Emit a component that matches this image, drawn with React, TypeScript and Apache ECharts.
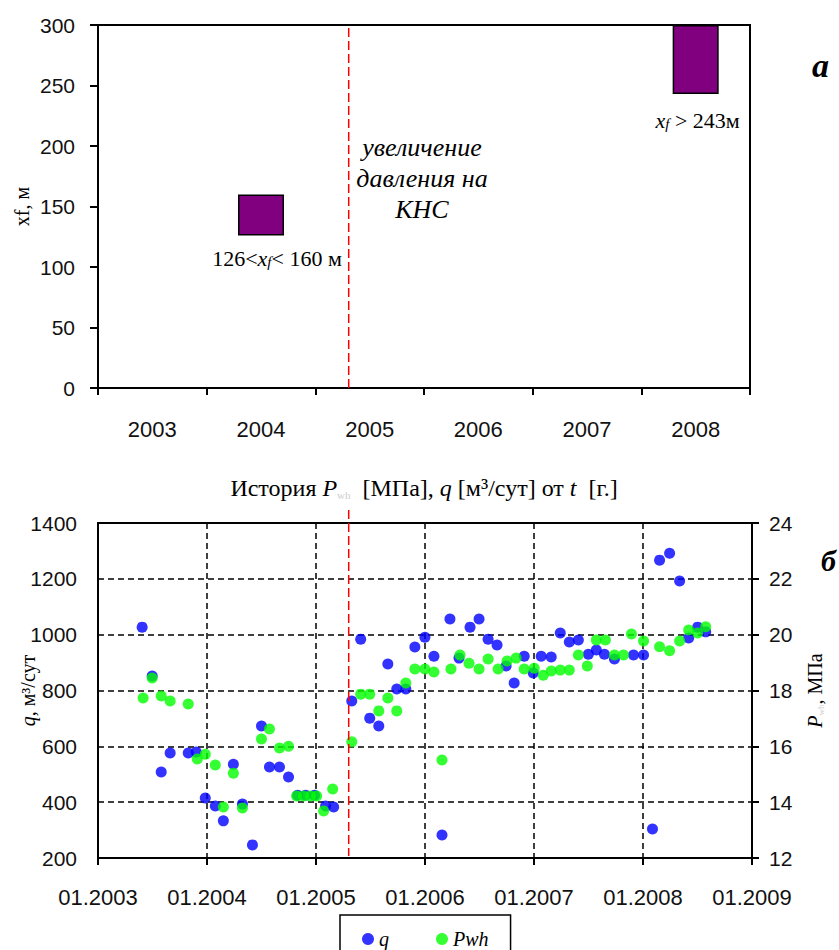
import React, { useEffect, useRef } from "react";
import * as echarts from "echarts";

// ---- Chart (a): fracture half-length xf by year ----
const years = ["2003", "2004", "2005", "2006", "2007", "2008"];
const xfLow: (number | null)[] = [null, 126, null, null, null, 243];
const xfHigh: (number | null)[] = [null, 160, null, null, null, 300];
const xfLabels = ["", "126<{i|x}{sub|f}< 160 м", "", "", "", "{i|x}{sub|f} > 243м"];

// ---- Chart (б): history of q and Pwh (decimal years) ----
const qDates = [2003.405, 2003.497, 2003.58, 2003.662, 2003.828, 2003.902, 2003.984, 2004.076, 2004.15, 2004.242,
  2004.325, 2004.417, 2004.5, 2004.573, 2004.665, 2004.748, 2004.831, 2004.904, 2004.987, 2005.088,
  2005.162, 2005.328, 2005.41, 2005.493, 2005.576, 2005.659, 2005.741, 2005.824, 2005.907, 2005.999,
  2006.082, 2006.156, 2006.229, 2006.312, 2006.413, 2006.496, 2006.579, 2006.661, 2006.744, 2006.818,
  2006.91, 2006.993, 2007.066, 2007.158, 2007.241, 2007.324, 2007.407, 2007.499, 2007.572, 2007.646,
  2007.738, 2007.913, 2008.005, 2008.087, 2008.152, 2008.244, 2008.336, 2008.419, 2008.501, 2008.575];
const qValues = [1027, 852, 508, 576, 576, 580, 415, 386, 333, 536,
  393, 247, 673, 526, 526, 490, 425, 425, 425, 386,
  383, 762, 984, 701, 673, 895, 805, 805, 956, 991,
  923, 282, 1056, 916, 1027, 1056, 984, 963, 888, 827,
  923, 863, 923, 920, 1006, 974, 981, 930, 945, 930,
  913, 927, 927, 304, 1267, 1292, 1192, 988, 1027, 1010];

const pDates = [2003.414, 2003.497, 2003.58, 2003.662, 2003.828, 2003.911, 2003.984, 2004.076, 2004.15, 2004.242,
  2004.325, 2004.5, 2004.573, 2004.665, 2004.748, 2004.822, 2004.886, 2004.95, 2005.006, 2005.07,
  2005.153, 2005.328, 2005.41, 2005.493, 2005.576, 2005.659, 2005.741, 2005.824, 2005.907, 2005.999,
  2006.082, 2006.156, 2006.238, 2006.321, 2006.404, 2006.496, 2006.579, 2006.671, 2006.753, 2006.836,
  2006.91, 2007.002, 2007.085, 2007.158, 2007.241, 2007.324, 2007.407, 2007.489, 2007.572, 2007.655,
  2007.738, 2007.821, 2007.894, 2008.005, 2008.152, 2008.244, 2008.336, 2008.419, 2008.501, 2008.575];
const pValues = [17.73, 18.45, 17.8, 17.62, 17.52, 15.55, 15.72, 15.33, 13.83, 15.04,
  13.79, 16.26, 16.62, 15.94, 16.0, 14.22, 14.22, 14.22, 14.22, 13.68,
  14.47, 16.16, 17.87, 17.87, 17.27, 17.73, 17.27, 18.27, 18.77, 18.77,
  18.66, 15.51, 18.77, 19.27, 18.98, 18.77, 19.13, 18.77, 19.06, 19.16,
  18.77, 18.8, 18.55, 18.7, 18.73, 18.73, 19.27, 18.88, 19.81, 19.81,
  19.27, 19.27, 20.02, 19.77, 19.57, 19.42, 19.77, 20.17, 20.06, 20.28];

const knsDate = 2005.3; // увеличение давления на КНС

export default function App() {
  const ref = useRef<HTMLDivElement>(null);
  useEffect(() => {
    const chart = echarts.init(ref.current!, null, { renderer: "svg" });
    const serif = "'Liberation Serif', 'Times New Roman', serif";
    const sans = "'Liberation Sans', Arial, sans-serif";
    const black = "#000";
    const axisLine = { show: true, lineStyle: { color: black, width: 2 } };
    const labelStyle = { fontFamily: sans, fontSize: 21, color: "#111", formatter: (v: number) => String(v) };
    const dashed = { show: true, lineStyle: { color: black, width: 1.5, type: [6, 4] as any } };

    const labelOffsets = [[0, 0], [16, 0], [0, 0], [0, 0], [0, 0], [2, 4]];
    const rangeData = xfHigh.map((h, i) => {
      const lo = xfLow[i];
      const v = h != null && lo != null ? h - lo : null;
      return {
        value: v,
        label: { offset: labelOffsets[i], formatter: () => xfLabels[i] },
      };
    });

    const option: any = {
      animation: false,
      backgroundColor: "#fff",
      title: {
        text: "История {i|P}{s|wh}  [МПа], {i|q} [м³/сут] от {i|t}  [г.]",
        left: 419,
        top: 471,
        textAlign: "center",
        textStyle: {
          fontFamily: serif, fontSize: 24, fontWeight: "normal", color: black,
          rich: {
            i: { fontFamily: serif, fontSize: 24, fontStyle: "italic", color: black },
            s: { fontFamily: serif, fontSize: 11, color: "#ccc", verticalAlign: "bottom" },
          },
        },
      },
      legend: {
        data: ["q", "Pwh"],
        left: 340,
        top: 915,
        orient: "horizontal",
        icon: "circle",
        itemWidth: 12,
        itemHeight: 12,
        itemGap: 47,
        padding: [14, 22, 14, 22],
        borderColor: black,
        borderWidth: 1.5,
        textStyle: { fontFamily: serif, fontStyle: "italic", fontSize: 20, color: black },
      },
      grid: [
        { left: 98, top: 25, width: 652, height: 363, show: true, borderColor: black, borderWidth: 2, backgroundColor: "transparent", outerBoundsMode: "none", containLabel: false },
        { left: 98, top: 523, width: 654, height: 335, show: true, borderColor: black, borderWidth: 2, backgroundColor: "transparent", outerBoundsMode: "none", containLabel: false },
      ],
      xAxis: [
        {
          type: "category", gridIndex: 0, data: years, boundaryGap: true,
          axisLine, axisTick: { show: true, length: 7, lineStyle: { color: black, width: 2 } },
          axisLabel: { fontFamily: sans, fontSize: 22, color: "#111", margin: 30 },
          splitLine: { show: false },
        },
        {
          type: "value", gridIndex: 1, min: 2003, max: 2009, interval: 1,
          axisLine, axisTick: { show: true, length: 7, lineStyle: { color: black, width: 2 } },
          axisLabel: { ...labelStyle, fontSize: 22, margin: 28, formatter: (v: number) => "01." + v },
          splitLine: dashed,
        },
      ],
      yAxis: [
        {
          type: "value", gridIndex: 0, min: 0, max: 300, interval: 50,
          name: "xf, м", nameLocation: "middle", nameGap: 66, nameMoveOverlap: false,
          nameTextStyle: { fontFamily: serif, fontSize: 20, color: black },
          axisLine, axisTick: { show: true, length: 8, lineStyle: { color: black, width: 2 } },
          axisLabel: { ...labelStyle, margin: 23 },
          splitLine: { show: false },
        },
        {
          type: "value", gridIndex: 1, min: 200, max: 1400, interval: 200,
          name: "{i|q}, м³/сут", nameLocation: "middle", nameGap: 60, nameMoveOverlap: false,
          nameTextStyle: {
            fontFamily: serif, fontSize: 20, color: black,
            rich: { i: { fontFamily: serif, fontSize: 20, fontStyle: "italic", color: black } },
          },
          axisLine, axisTick: { show: false },
          axisLabel: { ...labelStyle, margin: 21 },
          splitLine: dashed,
        },
        {
          type: "value", gridIndex: 1, position: "right", min: 12, max: 24, interval: 2,
          name: "{i|P}{s|wh}, МПа", nameLocation: "middle", nameGap: 53, nameMoveOverlap: false,
          nameTextStyle: {
            fontFamily: serif, fontSize: 20, color: black,
            rich: {
              i: { fontFamily: serif, fontSize: 20, fontStyle: "italic", color: black },
              s: { fontFamily: serif, fontSize: 9, color: "#ccc", verticalAlign: "bottom" },
            },
          },
          axisLine, axisTick: { show: true, length: 7, lineStyle: { color: black, width: 2 } },
          axisLabel: { ...labelStyle, margin: 17 },
          splitLine: { show: false },
        },
      ],
      series: [
        {
          name: "base", type: "bar", xAxisIndex: 0, yAxisIndex: 0, stack: "xf",
          data: xfLow, barWidth: 46, silent: true,
          itemStyle: { color: "transparent" },
        },
        {
          name: "xf", type: "bar", xAxisIndex: 0, yAxisIndex: 0, stack: "xf",
          data: rangeData, barWidth: 46,
          itemStyle: { color: "#800080", borderColor: black, borderWidth: 1.5 },
          label: {
            show: true, position: "bottom", distance: 12,
            fontFamily: serif, fontSize: 22, color: black,
            rich: {
              i: { fontFamily: serif, fontSize: 22, fontStyle: "italic", color: black },
              sub: { fontFamily: serif, fontSize: 15, fontStyle: "italic", color: black, verticalAlign: "bottom", padding: [7, 0, 0, 0] },
            },
          },
        },
        {
          name: "q", type: "scatter", xAxisIndex: 1, yAxisIndex: 1,
          data: qDates.map((d, i) => [d, qValues[i]]),
          symbol: "circle", symbolSize: 11,
          itemStyle: { color: "#0000FF" },
        },
        {
          name: "Pwh", type: "scatter", xAxisIndex: 1, yAxisIndex: 2,
          data: pDates.map((d, i) => [d, pValues[i]]),
          symbol: "circle", symbolSize: 11,
          itemStyle: { color: "#00FF00" },
        },
      ],
    };
    chart.setOption(option);

    const kx = chart.convertToPixel({ xAxisIndex: 1 }, knsDate) as number;
    const topY0 = chart.convertToPixel({ yAxisIndex: 0 }, 300) as number;
    const topY1 = chart.convertToPixel({ yAxisIndex: 0 }, 0) as number;
    const botY0 = chart.convertToPixel({ yAxisIndex: 1 }, 1400) as number;
    const botY1 = chart.convertToPixel({ yAxisIndex: 1 }, 200) as number;
    const redLine = { stroke: "#FF0000", lineWidth: 1.5, lineDash: [9, 4] };
    chart.setOption({
      graphic: [
        { type: "line", shape: { x1: kx, y1: topY0 + 3, x2: kx, y2: topY1 }, style: redLine, z: 10 },
        { type: "line", shape: { x1: kx, y1: botY0 - 13, x2: kx, y2: botY1 - 2 }, style: redLine, z: 10 },
        {
          type: "text", x: 422, y: 132, z: 10,
          style: {
            text: "увеличение\nдавления на\nКНС", fill: black, align: "center",
            font: `italic 26px ${serif}`, lineHeight: 31,
          },
        },
        { type: "text", x: 812, y: 48, style: { text: "а", fill: black, font: `italic bold 34px ${serif}` } },
        { type: "text", x: 821, y: 545, style: { text: "б", fill: black, font: `italic bold 30px ${serif}` } },
      ],
    });

    return () => chart.dispose();
  }, []);
  return <div ref={ref} style={{ position: "absolute", left: 0, top: 0, width: 839, height: 950 }} />;
}
